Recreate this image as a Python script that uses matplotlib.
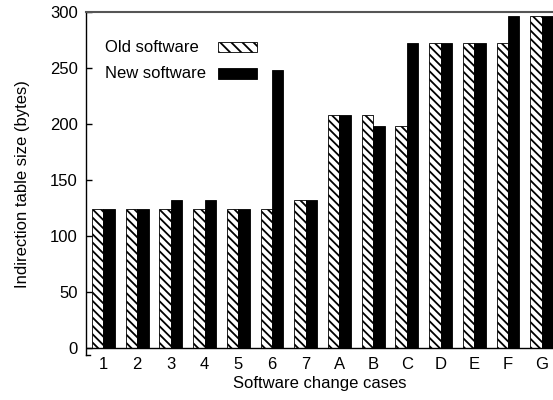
import matplotlib.pyplot as plt
import numpy as np
from matplotlib.patches import Rectangle

plt.rcParams["font.family"] = ["Liberation Sans", "DejaVu Sans"]
plt.rcParams["hatch.linewidth"] = 1.3

cases = ["1", "2", "3", "4", "5", "6", "7", "A", "B", "C", "D", "E", "F", "G"]
old_sw = [124, 124, 124, 124, 124, 124, 132, 208, 208, 198, 272, 272, 272, 296]
new_sw = [124, 124, 132, 132, 124, 248, 132, 208, 198, 272, 272, 272, 296, 296]

x = np.arange(len(cases))
w = 0.34

fig = plt.figure(figsize=(5.53, 4.0), dpi=100)
ax = fig.add_axes([0.1555, 0.112, 0.8445, 0.858])

ax.bar(x - w / 2, old_sw, w, color="white", edgecolor="black", hatch="\\\\\\\\",
       linewidth=0.6)
ax.bar(x + w / 2, new_sw, w, color="black", edgecolor="black", linewidth=0.6)

ax.set_xlim(-0.516, len(cases) - 1 + 0.335)
ax.set_ylim(-6.5, 300)
ax.axhline(0, color="black", lw=1.0)

ax.set_yticks([0, 50, 100, 150, 200, 250, 300])
ax.set_xticks(x)
ax.set_xticklabels(cases)
ax.tick_params(axis="y", direction="in", length=4, width=1, labelsize=12, pad=6)
ax.tick_params(axis="x", length=0, labelsize=12, pad=1)

ax.spines["right"].set_visible(False)
ax.spines["top"].set_color("#555555")
ax.spines["top"].set_linewidth(1.5)
ax.spines["left"].set_linewidth(1.0)
ax.spines["bottom"].set_bounds(-0.516, -0.4)
ax.spines["bottom"].set_linewidth(1.0)

ax.set_xlabel("Software change cases", fontsize=12, labelpad=3)
ax.set_ylabel("Indirection table size (bytes)", fontsize=12, labelpad=14)

# key: labels left-aligned, swatches to the right
legend_rows = [("Old software", "white", "\\\\\\", 0.898),
               ("New software", "black", None, 0.822)]
for label, fc, hatch, yc in legend_rows:
    ax.text(0.040, yc, label, transform=ax.transAxes, fontsize=12,
            ha="left", va="center")
    ax.add_patch(Rectangle((0.283, yc - 0.016), 0.083, 0.032,
                           transform=ax.transAxes, facecolor=fc,
                           edgecolor="black", hatch=hatch, linewidth=0.6,
                           clip_on=False))

fig.savefig("out.png", dpi=100)
